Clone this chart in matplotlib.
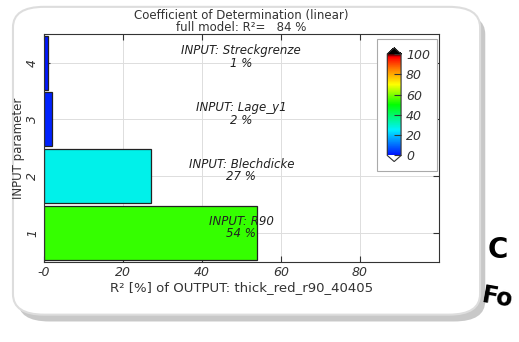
import numpy as np
import matplotlib
matplotlib.use("Agg")
from matplotlib import pyplot as plt
from matplotlib.colors import LinearSegmentedColormap, Normalize
from matplotlib.patches import FancyBboxPatch, Rectangle

# data
params = [1, 2, 3, 4]
names = ["R90", "Blechdicke", "Lage_y1", "Streckgrenze"]
r2 = [54, 27, 2, 1]
full_r2 = 84
xticks = [0, 20, 40, 60, 80]
xticklabels = ["-0", "20", "40", "60", "80"]
cticks = [0, 20, 40, 60, 80, 100]

cmap = LinearSegmentedColormap.from_list(
    "r2", [(0.0, "#0010ff"), (0.25, "#00f0ff"), (0.5, "#00ff00"),
           (0.7, "#ffff00"), (0.85, "#ff8000"), (0.97, "#ff0000"), (1.0, "#400000")])
cmap.set_over("black")
cmap.set_under("white")
norm = Normalize(0, 100)

fig = plt.figure(figsize=(5.19, 3.42), dpi=100)
fig.patch.set_facecolor("white")

############ card behind the chart ############
shadow = FancyBboxPatch((0.035, 0.06), 0.9, 0.9, boxstyle="round,pad=0.0,rounding_size=0.06",
                        transform=fig.transFigure, facecolor="#c8c8c8", edgecolor="none", zorder=-3)
card = FancyBboxPatch((0.025, 0.08), 0.9, 0.9, boxstyle="round,pad=0.0,rounding_size=0.06",
                      transform=fig.transFigure, facecolor="white", edgecolor="#dddddd", lw=1.5, zorder=-2)
fig.patches.extend([shadow, card])

ax = fig.add_axes([0.085, 0.235, 0.76, 0.665])
ax.barh(params, r2, height=0.95, color=cmap(norm(np.array(r2))), edgecolor="#222222", lw=0.9, zorder=2)

for p, n, v in zip(params, names, r2):
    ax.text(50, p + 0.1, "INPUT: " + n + "\n" + str(v) + " %", ha="center", va="center",
            fontsize=8.5, style="italic", color="#222222", zorder=3, linespacing=0.95)

ax.set_xlim(0, 100)
ax.set_ylim(0.5, 4.5)
ax.set_xticks(xticks)
ax.set_xticklabels(xticklabels, style="italic")
ax.set_yticks(params)
ax.set_yticklabels([str(p) for p in params], rotation=90, va="center", style="italic")
ax.tick_params(labelsize=9, direction="in", length=4, colors="#333333", top=True, right=True)
ax.grid(True, color="#dddddd", lw=0.7, zorder=0)
ax.set_xlabel("R² [%] of OUTPUT: thick_red_r90_40405", fontsize=9.5, color="#333333", labelpad=1)
ax.set_ylabel("INPUT parameter", fontsize=8.5, color="#333333", labelpad=1)
ax.set_title("Coefficient of Determination (linear)\nfull model: R²=   " + str(full_r2) + " %",
             fontsize=8.5, color="#333333", pad=2, linespacing=0.95)
for s in ax.spines.values():
    s.set_color("#333333")

############ colorbar ############
ax.add_patch(Rectangle((0.845, 0.4), 0.15, 0.58, transform=ax.transAxes, facecolor="white",
                       edgecolor="#aaaaaa", lw=0.8, zorder=4))
cax = ax.inset_axes([0.87, 0.44, 0.035, 0.5])
cax.set_zorder(5)
sm = plt.cm.ScalarMappable(norm=norm, cmap=cmap)
cb = fig.colorbar(sm, cax=cax, ticks=cticks, extend="both", extendfrac=0.06)
cb.ax.tick_params(labelsize=9, direction="in", length=5, colors="#333333")
cb.ax.set_yticklabels([str(t) for t in cticks], style="italic")
cb.outline.set_edgecolor("#333333")

############ stray letters at the lower right ############
fig.text(0.94, 0.27, "C", fontsize=20, fontweight="bold", ha="left", va="center")
fig.text(0.925, 0.13, "Fo", fontsize=17, fontweight="bold", ha="left", va="center", rotation=-10)

fig.savefig("out.png", dpi=100)
